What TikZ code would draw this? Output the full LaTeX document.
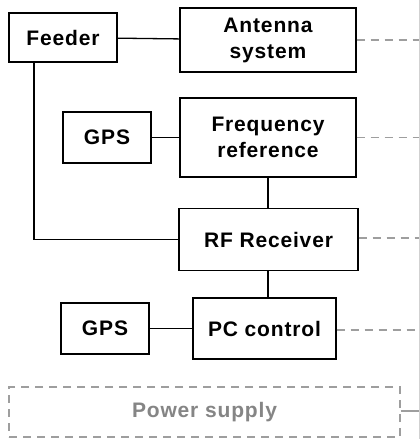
\documentclass[tikz,border=0pt]{standalone}
\usepackage{fontspec}
\setmainfont{Liberation Sans}[LetterSpace=4]
\begin{document}
\begin{tikzpicture}[x=1pt,y=-1pt,
  box/.style={draw=black,line width=1.3pt,inner sep=0pt,align=center,
    font=\fontsize{21}{26}\selectfont\bfseries},
  conn/.style={draw=black,line width=1.3pt},
  dconn/.style={draw=black!38,line width=1.3pt,dash pattern=on 8pt off 6pt},
  gbox/.style={draw=black!38,line width=1.3pt,dash pattern=on 8pt off 6pt,inner sep=0pt,
    text=black!48,font=\fontsize{21}{26}\selectfont\bfseries}]
\useasboundingbox (0,0) rectangle (420,439);
\fill[white] (0,0) rectangle (420,439);
\node[box,minimum width=108pt,minimum height=49pt] (feeder) at (63,37.5) {Feeder};
\node[box,minimum width=176pt,minimum height=64pt] (ant) at (268,40) {Antenna\\system};
\node[box,minimum width=88pt,minimum height=51pt] (gpsa) at (107,137.5) {GPS};
\node[box,minimum width=176pt,minimum height=79pt] (freq) at (268,137.5) {Frequency\\reference};
\node[box,minimum width=179pt,minimum height=62pt] (rf) at (268.5,239.5) {RF Receiver};
\node[box,minimum width=88pt,minimum height=51pt] (gpsb) at (105,328.5) {GPS};
\node[box,minimum width=143pt,minimum height=61pt] (pc) at (264.5,328.5) {PC control};
\node[gbox,minimum width=391pt,minimum height=50pt] (power) at (204.5,412) {Power supply};
\coordinate (edge) at (420,0);
\coordinate (vline) at (419.5,0);
\draw[conn] (feeder) -- (ant);
\draw[conn] ([xshift=-29pt]feeder.south) |- (rf.west);
\draw[conn] (gpsa) -- (freq);
\draw[conn] (freq.south) -- (freq.south |- rf.north);
\draw[conn] ([xshift=-0.5pt]rf.south) -- ([xshift=-0.5pt]rf.south |- pc.north);
\draw[conn] (gpsb) -- (pc);
\draw[dconn] (ant.east) -- (ant.east -| edge);
\draw[dconn] (freq.east) -- (freq.east -| edge);
\draw[dconn] ([yshift=1.5pt]rf.east) -- ([yshift=1.5pt]rf.east -| edge);
\draw[dconn] ([yshift=-1.5pt]pc.east) -- ([yshift=-1.5pt]pc.east -| edge);
\draw[draw=black!38,line width=1.3pt] ([yshift=1pt]power.east) -- ([yshift=1pt]power.east -| edge);
\draw[draw=black!18,line width=0.8pt] (vline) -- ++(0,439);
\end{tikzpicture}
\end{document}
